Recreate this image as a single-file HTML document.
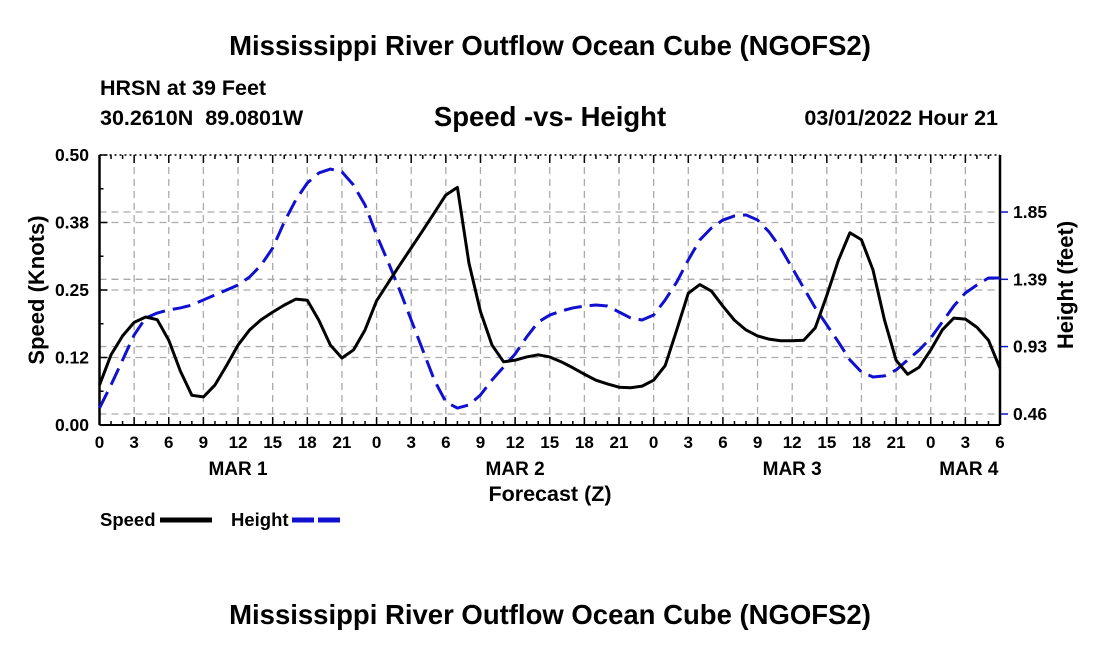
<!DOCTYPE html>
<html><head><meta charset="utf-8"><style>
body{margin:0;background:#fff;width:1100px;height:650px;overflow:hidden}
svg{font-family:"Liberation Sans",sans-serif;font-weight:bold}
</style></head><body>
<svg id="chart" width="1100" height="650" xmlns="http://www.w3.org/2000/svg">
<text x="550" y="55" font-size="27.5" text-anchor="middle">Mississippi River Outflow Ocean Cube (NGOFS2)</text>
<text x="100" y="95" font-size="21.5">HRSN at 39 Feet</text>
<text x="100" y="125" font-size="21.5">30.2610N&#160;&#160;89.0801W</text>
<text x="550" y="126" font-size="27.5" text-anchor="middle">Speed -vs- Height</text>
<text x="998" y="125" font-size="21.5" text-anchor="end">03/01/2022 Hour 21</text>
<g id="grid"></g><g id="axes"></g><g id="series"></g>
<text x="550" y="501" font-size="21.5" text-anchor="middle">Forecast (Z)</text>
<text transform="translate(44,290) rotate(-90)" font-size="22" text-anchor="middle">Speed (Knots)</text>
<text transform="translate(1073,285) rotate(-90)" font-size="22" text-anchor="middle">Height (feet)</text>
<g>
<text x="100" y="526" font-size="18.5">Speed</text>
<line x1="160" y1="520" x2="212" y2="520" stroke="#000" stroke-width="5"/>
<text x="231" y="526" font-size="18.5">Height</text>
<line x1="292" y1="520" x2="344" y2="520" stroke="#1010d0" stroke-width="5" stroke-dasharray="22,4"/>
</g>
<text x="550" y="624" font-size="27.5" text-anchor="middle">Mississippi River Outflow Ocean Cube (NGOFS2)</text>
</svg>
<script>
const hours=[];for(let i=0;i<=78;i++)hours.push(i);
const speed=[0.074,0.13,0.165,0.19,0.2,0.195,0.157,0.1,0.055,0.052,0.074,0.11,0.148,0.176,0.195,0.209,0.222,0.233,0.231,0.194,0.148,0.124,0.139,0.176,0.23,0.263,0.296,0.328,0.36,0.393,0.426,0.44,0.3,0.21,0.148,0.117,0.12,0.126,0.13,0.126,0.117,0.106,0.094,0.083,0.076,0.07,0.069,0.072,0.083,0.11,0.176,0.244,0.26,0.248,0.22,0.194,0.176,0.165,0.159,0.156,0.156,0.157,0.18,0.24,0.305,0.356,0.343,0.287,0.194,0.12,0.094,0.107,0.139,0.176,0.198,0.196,0.181,0.157,0.105];
const heightY=[408,385,360,335,318,313,310,308,305,300,295,290,285,277,265,248,222,200,183,173,169,172,185,205,235,262,290,320,350,380,402,408,405,395,380,367,354,337,322,315,311,308,306,305,306,312,318,320,315,300,282,260,240,228,220,216,215,220,232,248,268,288,308,325,342,360,372,377,376,370,360,350,338,322,306,293,285,278,278];
const height=heightY.map(y=>+(0.463+(414-y)/145.3).toFixed(3));
const speedTicks=[0,0.125,0.25,0.375,0.5];
const speedTickLabels=["0.00","0.12","0.25","0.38","0.50"];
const heightTicks=[0.463,0.927,1.39,1.853];
const heightTickLabels=["0.46","0.93","1.39","1.85"];
const dayLabels=["MAR 1","MAR 2","MAR 3","MAR 4"];
const dayHours=[12,36,60,75.3];
const X0=99.5,X1=1000,Y0=425,Y1=155;
const xs=t=>X0+(X1-X0)*t/78;
const ys=v=>Y0-(Y0-Y1)*v/0.5;
const yh=h=>414-(h-0.463)*145.3;
const NS="http://www.w3.org/2000/svg";
function mk(tag,at,parent,txt){const e=document.createElementNS(NS,tag);for(const k in at)e.setAttribute(k,at[k]);if(txt!==undefined)e.textContent=txt;parent.appendChild(e);return e;}
const grid=document.getElementById('grid'),axes=document.getElementById('axes'),ser=document.getElementById('series');
for(let t=0;t<=78;t+=3){
 if(t>0&&t<78){const l=mk('line',{x1:xs(t),x2:xs(t),y1:Y1,y2:Y0,stroke:'#aaa','stroke-width':1.3,'stroke-dasharray':'7,5'},grid);
 }
 const tx=mk('text',{x:xs(t),y:448,'font-size':17,'text-anchor':'middle'},axes,String(t%24));
 
}
for(let t=0;t<=78;t++){
 const len=t%3===0?8:4;
 mk('line',{x1:xs(t),x2:xs(t),y1:Y0,y2:Y0-len,stroke:'#000','stroke-width':1.5},axes);
 mk('line',{x1:xs(t),x2:xs(t),y1:Y1,y2:Y1+len,stroke:'#000','stroke-width':1.5},axes);
}
speedTicks.forEach((v,i)=>{
 if(i>0&&i<4){const l=mk('line',{x1:X0,x2:X1,y1:ys(v),y2:ys(v),stroke:'#aaa','stroke-width':1.3,'stroke-dasharray':'7,5'},grid);
 }
 mk('line',{x1:X0,x2:X0+8,y1:ys(v),y2:ys(v),stroke:'#000','stroke-width':1.5},axes);
 const tx=mk('text',{x:89,y:ys(v)+6,'font-size':17.5,'text-anchor':'end'},axes,speedTickLabels[i]);
 
});
for(let v=0.0625;v<0.5;v+=0.125)mk('line',{x1:X0,x2:X0+4,y1:ys(v),y2:ys(v),stroke:'#000','stroke-width':1.5},axes);
heightTicks.forEach((h,i)=>{
 const l=mk('line',{x1:X0,x2:X1,y1:yh(h),y2:yh(h),stroke:'#aaa','stroke-width':1.3,'stroke-dasharray':'7,5'},grid);
 
 mk('line',{x1:X1,x2:X1+8,y1:yh(h),y2:yh(h),stroke:'#1010d0','stroke-width':1.5},axes);
 const tx=mk('text',{x:1013,y:yh(h)+6,'font-size':17.5},axes,heightTickLabels[i]);
 
});
dayLabels.forEach((d,i)=>{const tx=mk('text',{x:xs(dayHours[i]),y:475,'font-size':19,'text-anchor':'middle'},axes,d);
 });
mk('line',{x1:X0,x2:X0,y1:Y1,y2:Y0,stroke:'#000','stroke-width':2.5},axes);
mk('line',{x1:X1,x2:X1,y1:Y1,y2:Y0,stroke:'#000','stroke-width':2.5},axes);
mk('line',{x1:X0,x2:X1,y1:Y0,y2:Y0,stroke:'#000','stroke-width':2},axes);
mk('line',{x1:X0,x2:X1,y1:Y1,y2:Y1,stroke:'#000','stroke-width':1.5,'stroke-dasharray':'2,3'},axes);
const hp=mk('polyline',{points:hours.map((t,i)=>xs(t)+','+yh(height[i])).join(' '),fill:'none',stroke:'#1010d0','stroke-width':3,'stroke-dasharray':'18,8','stroke-linejoin':'round'},ser);


const sp=mk('polyline',{points:hours.map((t,i)=>xs(t)+','+ys(speed[i])).join(' '),fill:'none',stroke:'#000','stroke-width':3,'stroke-linejoin':'round'},ser);


</script>
</body></html>
